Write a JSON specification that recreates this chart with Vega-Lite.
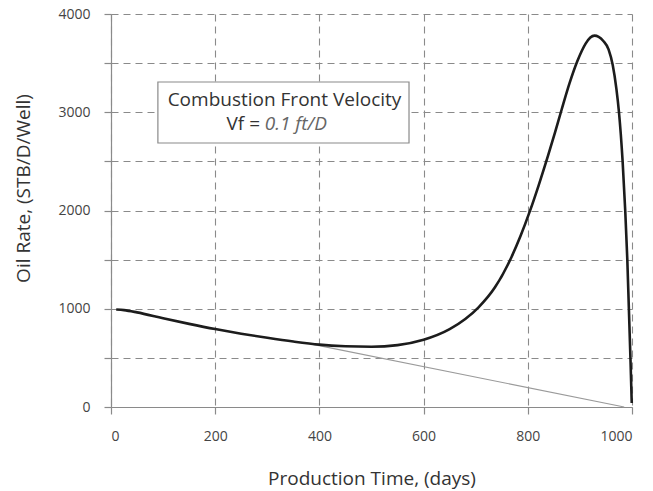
{
  "$schema": "https://vega.github.io/schema/vega-lite/v6.json",
  "width": 521,
  "height": 393,
  "autosize": {"type": "none"},
  "padding": {"left": 111, "top": 14, "right": 21, "bottom": 84},
  "background": "white",
  "config": {"view": {"stroke": null}, "font": "Open Sans"},
  "datasets": {
    "oil": [
      {"day": 10, "rate": 992},
      {"day": 25, "rate": 986},
      {"day": 50, "rate": 963},
      {"day": 100, "rate": 903},
      {"day": 150, "rate": 846},
      {"day": 200, "rate": 793},
      {"day": 250, "rate": 746},
      {"day": 300, "rate": 704},
      {"day": 350, "rate": 666},
      {"day": 400, "rate": 635},
      {"day": 450, "rate": 619},
      {"day": 500, "rate": 614},
      {"day": 550, "rate": 630},
      {"day": 600, "rate": 684},
      {"day": 650, "rate": 792},
      {"day": 680, "rate": 895},
      {"day": 705, "rate": 1012},
      {"day": 737, "rate": 1218},
      {"day": 769, "rate": 1530},
      {"day": 786, "rate": 1740},
      {"day": 804, "rate": 1993},
      {"day": 821, "rate": 2259},
      {"day": 839, "rate": 2560},
      {"day": 852, "rate": 2790},
      {"day": 865, "rate": 3028},
      {"day": 880, "rate": 3293},
      {"day": 895, "rate": 3518},
      {"day": 911, "rate": 3698},
      {"day": 920, "rate": 3761},
      {"day": 928, "rate": 3780},
      {"day": 936, "rate": 3768},
      {"day": 945, "rate": 3725},
      {"day": 955, "rate": 3640},
      {"day": 963, "rate": 3480},
      {"day": 970, "rate": 3240},
      {"day": 975, "rate": 3000},
      {"day": 982, "rate": 2500},
      {"day": 987, "rate": 2000},
      {"day": 991, "rate": 1500},
      {"day": 994, "rate": 1000},
      {"day": 997, "rate": 500},
      {"day": 999.5, "rate": 40}
    ],
    "decline": [
      {"day": 385, "rate": 640},
      {"day": 985, "rate": 0}
    ],
    "box": [{"x1": 90, "x2": 572, "y1": 2687, "y2": 3308}],
    "title1": [{"day": 333, "rate": 3120, "label": "Combustion Front Velocity"}],
    "title2a": [{"day": 286, "rate": 2880, "label": "Vf ="}],
    "title2b": [{"day": 295, "rate": 2880, "label": "0.1 ft/D"}]
  },
  "layer": [
    {
      "data": {"name": "decline"},
      "mark": {"type": "line", "color": "#9a9a9a", "strokeWidth": 1.1},
      "encoding": {
        "x": {
          "field": "day", "type": "quantitative",
          "scale": {"domain": [0, 1000], "nice": false},
          "axis": {
            "values": [0, 200, 400, 600, 800, 1000],
            "format": "d",
            "title": "Production Time, (days)",
            "domainColor": "#8a8a8a", "domainWidth": 1.2,
            "tickColor": "#8a8a8a", "tickSize": 7, "tickWidth": 1.2,
            "grid": true, "gridColor": "#8a8a8a", "gridDash": [7, 5], "gridWidth": 1.1,
            "labelFont": "Open Sans", "labelFontSize": 14, "labelColor": "#444",
            "labelPadding": 15,
            "titleFont": "Open Sans", "titleFontSize": 19, "titleFontWeight": "normal", "titleColor": "#333",
            "titleY": 71, "titleBaseline": "middle"
          }
        },
        "y": {
          "field": "rate", "type": "quantitative",
          "scale": {"domain": [0, 4000], "nice": false},
          "axis": {
            "values": [0, 500, 1000, 1500, 2000, 2500, 3000, 3500, 4000],
            "labelExpr": "datum.value % 1000 === 0 ? datum.label : ''",
            "format": "d",
            "title": "Oil Rate, (STB/D/Well)",
            "domainColor": "#8a8a8a", "domainWidth": 1.2,
            "tickColor": "#8a8a8a", "tickSize": 7, "tickWidth": 1.2,
            "grid": true, "gridColor": "#8a8a8a", "gridDash": [7, 5], "gridWidth": 1.1,
            "labelFont": "Open Sans", "labelFontSize": 14, "labelColor": "#444",
            "labelPadding": 14,
            "titleFont": "Open Sans", "titleFontSize": 19, "titleFontWeight": "normal", "titleColor": "#333",
            "titleX": -88, "titleY": 174, "titleBaseline": "middle", "titleAngle": -90
          }
        }
      }
    },
    {
      "data": {"name": "oil"},
      "mark": {"type": "line", "interpolate": "monotone", "color": "#1c1c1c", "strokeWidth": 2.6},
      "encoding": {
        "x": {"field": "day", "type": "quantitative"},
        "y": {"field": "rate", "type": "quantitative"}
      }
    },
    {
      "data": {"name": "box"},
      "mark": {"type": "rect", "fill": "white", "stroke": "#8a8a8a", "strokeWidth": 1.2},
      "encoding": {
        "x": {"field": "x1", "type": "quantitative"},
        "x2": {"field": "x2"},
        "y": {"field": "y1", "type": "quantitative"},
        "y2": {"field": "y2"}
      }
    },
    {
      "data": {"name": "title1"},
      "mark": {"type": "text", "font": "Open Sans", "fontSize": 19, "color": "#333", "align": "center", "baseline": "middle"},
      "encoding": {
        "x": {"field": "day", "type": "quantitative"},
        "y": {"field": "rate", "type": "quantitative"},
        "text": {"field": "label"}
      }
    },
    {
      "data": {"name": "title2a"},
      "mark": {"type": "text", "font": "Open Sans", "fontSize": 19, "color": "#333", "align": "right", "baseline": "middle"},
      "encoding": {
        "x": {"field": "day", "type": "quantitative"},
        "y": {"field": "rate", "type": "quantitative"},
        "text": {"field": "label"}
      }
    },
    {
      "data": {"name": "title2b"},
      "mark": {"type": "text", "font": "Open Sans", "fontSize": 19, "fontStyle": "italic", "color": "#666", "align": "left", "baseline": "middle"},
      "encoding": {
        "x": {"field": "day", "type": "quantitative"},
        "y": {"field": "rate", "type": "quantitative"},
        "text": {"field": "label"}
      }
    }
  ]
}
